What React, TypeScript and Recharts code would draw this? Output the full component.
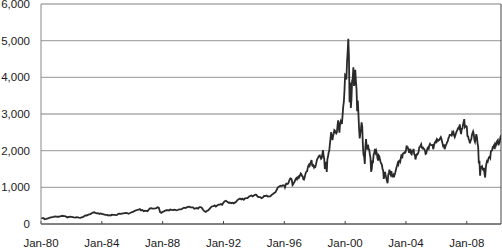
import React from 'react';
import { LineChart, Line, XAxis, YAxis, CartesianGrid, ReferenceLine } from 'recharts';

// NASDAQ-style index, Jan 1980 – Mar 2010
const startValue = 151;

// Month-end values, 1980–1995
const monthlyYears = [1980, 1981, 1982, 1983, 1984, 1985, 1986, 1987, 1988, 1989, 1990, 1991, 1992, 1993, 1994, 1995];
const monthlyValues: number[][] = [
  [162, 158, 131, 139, 150, 158, 172, 182, 188, 193, 208, 202],
  [198, 198, 210, 217, 224, 216, 212, 196, 180, 195, 201, 196],
  [188, 178, 176, 185, 179, 171, 167, 178, 188, 213, 232, 232],
  [248, 261, 271, 293, 309, 319, 304, 292, 297, 275, 286, 279],
  [268, 253, 251, 247, 233, 240, 230, 255, 250, 247, 243, 247],
  [279, 284, 279, 281, 291, 296, 301, 298, 280, 293, 314, 325],
  [336, 360, 375, 383, 392, 406, 371, 383, 351, 361, 360, 349],
  [392, 425, 430, 418, 417, 425, 435, 455, 444, 323, 305, 331],
  [345, 367, 375, 379, 370, 395, 387, 377, 388, 383, 372, 381],
  [401, 400, 407, 428, 446, 435, 454, 469, 473, 456, 456, 455],
  [416, 426, 436, 420, 459, 462, 438, 381, 345, 330, 359, 374],
  [414, 453, 482, 485, 506, 476, 502, 526, 527, 543, 524, 586],
  [620, 634, 604, 579, 585, 564, 581, 563, 583, 605, 653, 677],
  [696, 671, 690, 661, 701, 704, 705, 743, 763, 779, 754, 777],
  [801, 793, 744, 734, 735, 706, 722, 766, 764, 778, 750, 752],
  [755, 794, 817, 844, 865, 934, 1001, 1020, 1044, 1036, 1059, 1052],
];

// Half-month values, 1996–2010
const semiYears = [1996, 1997, 1998, 1999, 2000, 2001, 2002, 2003, 2004, 2005, 2006, 2007, 2008, 2009, 2010];
const semiValues: number[][] = [
  [1000, 1060, 1100, 1100, 1090, 1101, 1140, 1191, 1230, 1243, 1230, 1185, 1060, 1081, 1120, 1142, 1190, 1226, 1250, 1222, 1270, 1293, 1260, 1291],
  [1340, 1380, 1360, 1309, 1300, 1222, 1210, 1261, 1340, 1400, 1430, 1442, 1530, 1594, 1620, 1587, 1650, 1686, 1745, 1594, 1580, 1601, 1540, 1570],
  [1560, 1619, 1710, 1771, 1800, 1835, 1860, 1868, 1820, 1779, 1800, 1895, 2014, 1872, 1770, 1499, 1600, 1694, 1419, 1771, 1840, 1950, 2000, 2193],
  [2350, 2506, 2400, 2288, 2400, 2461, 2560, 2543, 2500, 2471, 2500, 2686, 2830, 2638, 2490, 2739, 2800, 2746, 2750, 2966, 3200, 3336, 3650, 4069],
  [4050, 3940, 4420, 4697, 5048, 4573, 3321, 3861, 3164, 3401, 3900, 3966, 4274, 3767, 3850, 4206, 3900, 3673, 3074, 3370, 3000, 2598, 2333, 2471],
  [2600, 2773, 2650, 2152, 1890, 1840, 1638, 2116, 2313, 2110, 2030, 2161, 2050, 2027, 1900, 1805, 1423, 1499, 1700, 1690, 1900, 1931, 2046, 1950],
  [2000, 1934, 1800, 1731, 1870, 1845, 1750, 1688, 1650, 1616, 1500, 1463, 1229, 1328, 1422, 1315, 1250, 1172, 1114, 1330, 1400, 1479, 1380, 1336],
  [1440, 1321, 1300, 1338, 1271, 1341, 1390, 1464, 1540, 1596, 1660, 1623, 1720, 1735, 1700, 1810, 1900, 1787, 1910, 1932, 1930, 1960, 1950, 2003],
  [2140, 2066, 2080, 2030, 1940, 1994, 2050, 1920, 1900, 1987, 1990, 2048, 1900, 1887, 1760, 1838, 1900, 1897, 1920, 1975, 2090, 2097, 2140, 2175],
  [2090, 2062, 2080, 2052, 2040, 1999, 1910, 1922, 2000, 2068, 2090, 2057, 2150, 2185, 2160, 2152, 2150, 2152, 2040, 2120, 2200, 2233, 2260, 2205],
  [2320, 2306, 2270, 2281, 2300, 2340, 2370, 2323, 2240, 2179, 2090, 2172, 2040, 2091, 2150, 2184, 2230, 2258, 2340, 2367, 2430, 2432, 2430, 2415],
  [2500, 2464, 2500, 2416, 2370, 2422, 2480, 2525, 2560, 2605, 2630, 2603, 2720, 2546, 2450, 2596, 2600, 2702, 2780, 2859, 2640, 2661, 2670, 2652],
  [2400, 2389, 2320, 2271, 2200, 2279, 2300, 2413, 2480, 2523, 2450, 2293, 2240, 2326, 2450, 2368, 2200, 2092, 1650, 1721, 1316, 1536, 1560, 1577],
  [1500, 1476, 1530, 1377, 1268, 1529, 1650, 1717, 1700, 1774, 1820, 1835, 1800, 1979, 2000, 2009, 2100, 2122, 2150, 2045, 2180, 2145, 2200, 2269],
  [2290, 2147, 2200, 2238, 2360, 2420],
];

const xTicks = [1980, 1984, 1988, 1992, 1996, 2000, 2004, 2008];
const yTicks = [0, 1000, 2000, 3000, 4000, 5000, 6000];
const xEnd = 2010.25;

const data: { t: number; v: number }[] = [{ t: 1980, v: startValue }];
monthlyYears.forEach((y, yi) => {
  monthlyValues[yi].forEach((v, i) => data.push({ t: y + (i + 1) / 12, v }));
});
semiYears.forEach((y, yi) => {
  semiValues[yi].forEach((v, i) => data.push({ t: y + (i + 1) / 24, v }));
});

const fmtYear = (t: number) => `Jan-${String(Math.round(t) % 100).padStart(2, '0')}`;
const fmtNum = (v: number) => v.toLocaleString('en-US');

const font = { fontFamily: '"Liberation Sans", Arial, sans-serif', fontSize: 11.5, fill: '#1a1a1a' };

export default function App() {
  return (
    <div style={{ position: 'absolute', left: 0, top: 0, width: 502, height: 249, background: '#fff' }}>
      <LineChart width={502} height={249} data={data} margin={{ top: 4, right: 1, bottom: 0, left: 0 }}>
        <CartesianGrid vertical={false} stroke="#aaaaaa" strokeWidth={1.3} />
        <XAxis
          dataKey="t"
          type="number"
          domain={[1980, xEnd]}
          ticks={xTicks}
          tickFormatter={fmtYear}
          height={25}
          tick={font}
          tickSize={-3}
          tickMargin={18}
          tickLine={{ stroke: '#444' }}
          axisLine={{ stroke: '#444' }}
          allowDataOverflow
        />
        <YAxis
          type="number"
          domain={[0, 6000]}
          ticks={yTicks}
          tickFormatter={fmtNum}
          width={41}
          tick={font}
          tickLine={false}
          tickMargin={5}
          axisLine={{ stroke: '#888' }}
          interval={0}
        />
        <ReferenceLine x={xEnd} stroke="#444" />
        <Line
          type="linear"
          dataKey="v"
          stroke="#2a2a2a"
          strokeWidth={1.8}
          dot={false}
          isAnimationActive={false}
        />
      </LineChart>
    </div>
  );
}
